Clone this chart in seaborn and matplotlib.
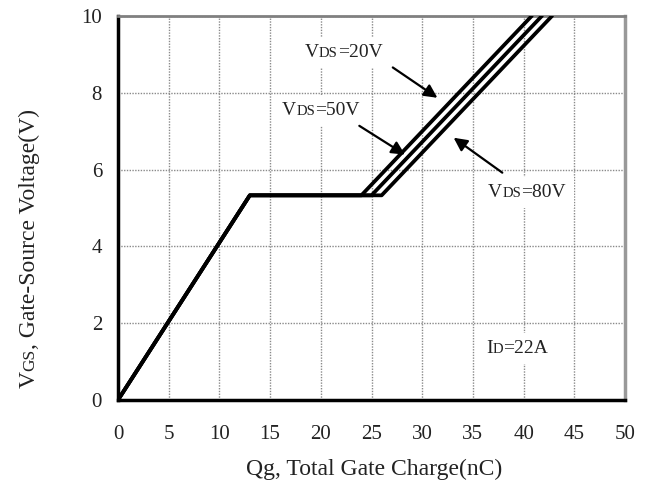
import pandas as pd
import matplotlib
matplotlib.use("Agg")
import matplotlib.pyplot as plt
import matplotlib.patches as mpatches
from matplotlib.transforms import Bbox
import seaborn as sns

# gate charge curves, one per drain-source voltage
QG_20V = [0, 13, 24, 40.8]
QG_50V = [0, 13, 25, 41.8]
QG_80V = [0, 13, 26, 42.8]
VGS = [0, 5.33, 5.33, 10]
SERIES = ['VDS=20V', 'VDS=50V', 'VDS=80V']

XTICKS = list(range(0, 51, 5))
YTICKS = list(range(0, 11, 2))

# arrow tail/head for each label (data coords)
ARROWS = {
    'VDS=20V': ((27.1, 8.66), (31.5, 7.87)),
    'VDS=50V': ((23.8, 7.14), (28.3, 6.39)),
    'VDS=80V': ((37.9, 5.92), (33.1, 6.83)),
}

BIG = 14
SMALL = 10.5
DESC = 0.217  # rough descent of the font, in em


def chained_text(ax, x, y, parts, sizes, transform, rotation=0):
    # draws text pieces one after the other, so "DS" can be smaller than "V"
    first = ax.text(x, y, parts[0], fontsize=sizes[0], transform=transform,
                    rotation=rotation, rotation_mode='anchor',
                    ha='left', va='baseline', zorder=4, color='#222222')
    pieces = [first]
    prev, prev_size = first, sizes[0]
    for part, size in zip(parts[1:], sizes[1:]):
        shift = DESC * (prev_size - size)
        if rotation == 0:
            xy, off, ha, va = (1, 0), (0, shift), 'left', 'bottom'
        else:
            xy, off, ha, va = (1, 1), (-shift, 0), 'right', 'bottom'
        prev = ax.annotate(part, xy=xy, xycoords=prev, xytext=off,
                           textcoords='offset points', fontsize=size,
                           rotation=rotation, ha=ha, va=va, color='#222222',
                           annotation_clip=False, zorder=4)
        pieces.append(prev)
        prev_size = size
    return pieces


sns.set_theme(style='white')
plt.rcParams['font.family'] = ['Liberation Serif', 'DejaVu Serif']

df = pd.DataFrame({
    'qg': QG_20V + QG_50V + QG_80V,
    'vgs': VGS * 3,
    'vds': [s for s in SERIES for _ in VGS],
})

fig = plt.figure(figsize=(6.47, 4.90), dpi=100)
ax = fig.add_axes([118 / 647, 1 - 400 / 490, (625 - 118) / 647, (400 - 16) / 490])

sns.lineplot(data=df, x='qg', y='vgs', hue='vds', palette=['black'] * 3,
             estimator=None, sort=False, legend=False, lw=2.7, ax=ax, zorder=3)

ax.set_xlim(0, 50)
ax.set_ylim(0, 10)
ax.set_xticks(XTICKS)
ax.set_yticks(YTICKS)
ax.set_xlabel('')
ax.set_ylabel('')
ax.grid(True, color='#8a8a8a', linestyle=(0, (1, 1)), lw=1)

ax.tick_params(axis='x', direction='in', length=4, width=1.8, color='black',
               labelsize=15, pad=18, labelcolor='#222222')
ax.tick_params(axis='y', direction='in', length=4, width=1.8, color='black',
               labelsize=15, pad=11.5, labelcolor='#222222')

for side in ['left', 'bottom']:
    ax.spines[side].set_color('black')
    ax.spines[side].set_linewidth(2.5)
ax.spines['top'].set_color('#808080')
ax.spines['top'].set_linewidth(2)
ax.spines['top'].set_linestyle((0, (1, 1)))
ax.spines['right'].set_color('#999999')
ax.spines['right'].set_linewidth(2.5)

# labels inside the plot
labels = [
    chained_text(ax, 18.4, 8.92, ['V', 'DS', '=20V'], [BIG, SMALL, BIG], ax.transData),
    chained_text(ax, 16.2, 7.43, ['V', 'DS', '=50V'], [BIG, SMALL, BIG], ax.transData),
    chained_text(ax, 36.5, 5.29, ['V', 'DS', '=80V'], [BIG, SMALL, BIG], ax.transData),
    chained_text(ax, 36.3, 1.23, ['I', 'D', '=22A'], [BIG, SMALL, BIG], ax.transData),
]

for name in SERIES:
    tail, head = ARROWS[name]
    ax.annotate('', xy=head, xytext=tail,
                arrowprops=dict(arrowstyle='-|>', color='black', lw=1.6,
                                mutation_scale=20, shrinkA=0, shrinkB=0),
                zorder=5)

# axis titles
fig.text(374 / 647, 1 - 475 / 490, 'Qg, Total Gate Charge(nC)', fontsize=17,
         ha='center', va='baseline', color='#222222')
chained_text(ax, 35 / 647, 1 - 388 / 490, ['V', 'GS', ', Gate-Source Voltage(V)'],
             [17, 12.5, 17], fig.transFigure, rotation=90)

# white boxes behind the in-plot labels, hiding the grid like the original
fig.canvas.draw()
renderer = fig.canvas.get_renderer()
to_axes = ax.transAxes.inverted()
for pieces in labels:
    bb = Bbox.union([p.get_window_extent(renderer) for p in pieces]).expanded(1.0, 1.0)
    bb = Bbox.from_extents(bb.x0 - 8, bb.y0 - 7, bb.x1 + 8, bb.y1 + 7)
    (x0, y0), (x1, y1) = to_axes.transform([[bb.x0, bb.y0], [bb.x1, bb.y1]])
    ax.add_patch(mpatches.Rectangle((x0, y0), x1 - x0, y1 - y0, transform=ax.transAxes,
                                    facecolor='white', edgecolor='none', zorder=2.5))

fig.savefig('out.png', dpi=100)
